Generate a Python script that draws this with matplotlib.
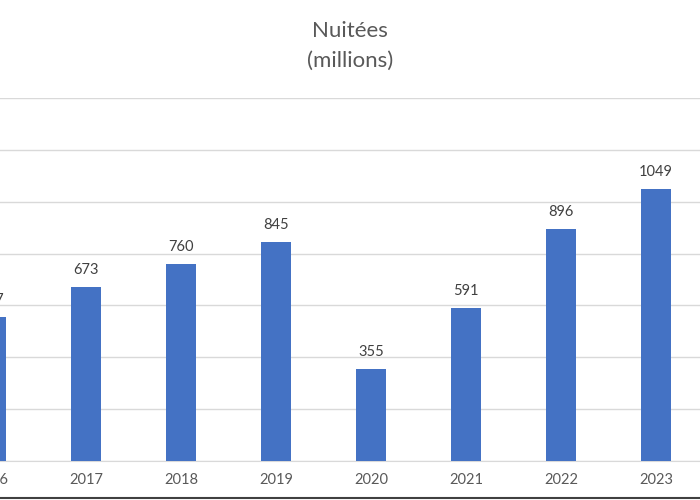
import matplotlib.pyplot as plt
from matplotlib.lines import Line2D

years = ["2016", "2017", "2018", "2019", "2020", "2021", "2022", "2023"]
nights = [557, 673, 760, 845, 355, 591, 896, 1049]

plt.rcParams["font.family"] = ["Lato", "DejaVu Sans"]

fig = plt.figure(figsize=(7, 5), dpi=100)
# the reference is cropped on the left, so the axes spill past the figure edge
ax = fig.add_axes([-0.0807, 0.078, 1.0857, 0.726])

x = list(range(len(years)))
ax.bar(x, nights, width=0.316, color="#4472C4", zorder=3)
for xi, v in zip(x, nights):
    ax.annotate(str(v), xy=(xi, v), xytext=(0, 7), textcoords="offset points",
                ha="center", va="bottom", fontsize=10.5, color="#404040")

ax.set_xticks(x)
ax.set_xticklabels(years)
ax.set_yticks(range(0, 1401, 200))
ax.set_xlim(-0.5, 7.5)
ax.set_ylim(0, 1400)
ax.yaxis.grid(True, color="#D9D9D9", linewidth=1, zorder=0)
ax.set_yticklabels([])
ax.tick_params(axis="y", length=0)
ax.tick_params(axis="x", length=0, pad=9, labelsize=10.5, labelcolor="#595959")
for s in ["top", "right", "left"]:
    ax.spines[s].set_visible(False)
ax.spines["bottom"].set_color("#D9D9D9")

fig.text(0.5, 0.908, "Nuitées\n(millions)", ha="center", va="center",
         fontsize=16, color="#595959", linespacing=1.65)

fig.add_artist(Line2D([0, 1], [0.004, 0.004], transform=fig.transFigure,
                      color="#404040", linewidth=1.5))

fig.savefig("out.png", dpi=100)
